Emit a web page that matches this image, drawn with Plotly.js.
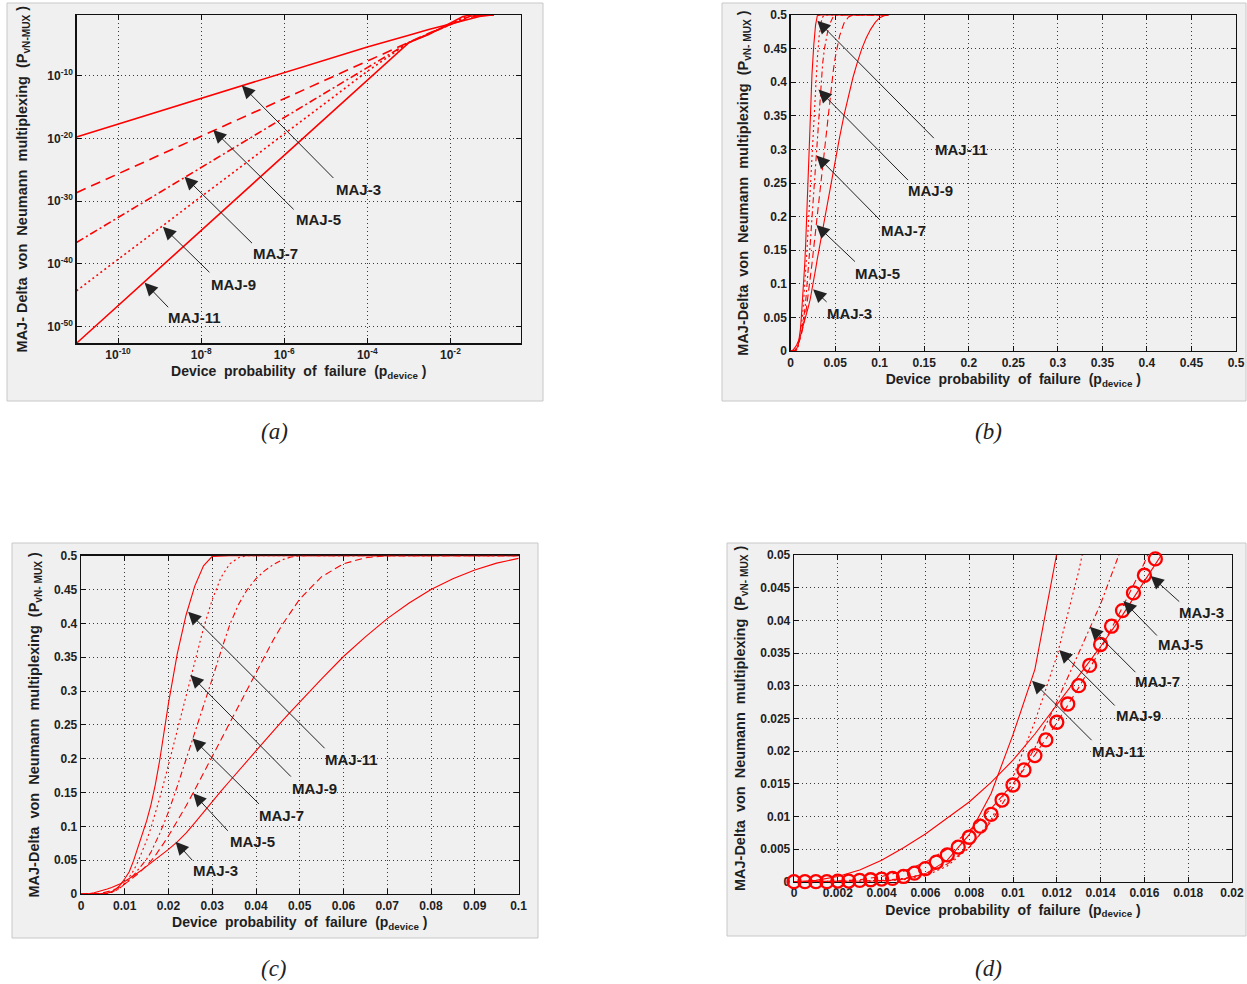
<!DOCTYPE html>
<html><head><meta charset="utf-8">
<script src="https://cdn.plot.ly/plotly-3.0.1.min.js"></script>
<style>html,body{margin:0;padding:0;background:#fff;} #chart{width:1247px;height:984px;}</style>
</head><body><div id="chart"></div>
<script>
// ---------- DATA ----------
const curveNames = ['MAJ-3', 'MAJ-5', 'MAJ-7', 'MAJ-9', 'MAJ-11'];

// panel (a): log-log
const pLog = [1e-11, 1e-10, 1e-9, 1e-8, 1e-7, 1e-6, 1e-5, 1e-4, 1e-3, 3e-3, 1e-2, 2e-2, 3e-2, 5e-2, 0.1, 0.11];
const maj3Log  = [1.8e-20, 2e-18, 2.2e-16, 2.6e-14, 3e-12, 3.3e-10, 3.7e-8, 4e-6, 3e-4, 2.5e-3, 0.0186, 0.066, 0.137, 0.284, 0.496, 0.5];
const maj5Log  = [2.3e-29, 2.3e-26, 2.3e-23, 2.3e-20, 2.3e-17, 2.3e-14, 2.3e-11, 2.3e-8, 2.2e-5, 6e-4, 0.015, 0.086, 0.203, 0.436, 0.5, 0.5];
const maj7Log  = [2.6e-37, 2.6e-33, 2.6e-29, 2.6e-25, 2.6e-21, 2.6e-17, 2.6e-13, 2.6e-9, 2e-5, 5e-4, 0.0145, 0.1215, 0.318, 0.5, 0.5, 0.5];
const maj9Log  = [5.2e-45, 5.2e-40, 5.2e-35, 5.2e-30, 5.2e-25, 5.2e-20, 5.2e-15, 5.2e-10, 2e-5, 4.5e-4, 0.016, 0.191, 0.435, 0.5, 0.5, 0.5];
const maj11Log = [2.2e-53, 2.2e-47, 2.2e-41, 2.2e-35, 2.2e-29, 2.2e-23, 2.2e-17, 2.2e-11, 2e-5, 4e-4, 0.0225, 0.282, 0.499, 0.5, 0.5, 0.5];

// panels (b), (c), (d): linear
const pLin = [0, 0.001, 0.002, 0.003, 0.004, 0.005, 0.006, 0.007, 0.008, 0.009, 0.010, 0.011, 0.012, 0.013, 0.014, 0.015, 0.016, 0.017, 0.018, 0.019, 0.020,
  0.022, 0.024, 0.026, 0.028, 0.030, 0.032, 0.034, 0.036, 0.038, 0.040, 0.042, 0.044, 0.046, 0.048, 0.050,
  0.055, 0.060, 0.065, 0.070, 0.075, 0.080, 0.085, 0.090, 0.095, 0.100, 0.105, 0.110];
const maj3Lin = [0, 0.0002, 0.0008, 0.0018, 0.0033, 0.0052, 0.0073, 0.0097, 0.0122, 0.0152, 0.0186, 0.0226, 0.0270, 0.0315, 0.0360, 0.0408, 0.0460, 0.0510, 0.0560, 0.0610, 0.0660,
  0.0770, 0.0900, 0.1050, 0.1210, 0.1370, 0.1520, 0.1670, 0.1820, 0.1970, 0.2120, 0.2270, 0.2420, 0.2560, 0.2700, 0.2840,
  0.3180, 0.3510, 0.3800, 0.4070, 0.4300, 0.4500, 0.4660, 0.4790, 0.4890, 0.4960, 0.4990, 0.5000];
const maj5Lin = [0, 0, 0.0001, 0.0003, 0.0008, 0.0016, 0.0030, 0.0050, 0.0078, 0.0112, 0.0150, 0.0194, 0.0243, 0.0297, 0.0356, 0.0420, 0.0488, 0.0570, 0.0660, 0.0760, 0.0860,
  0.1070, 0.1300, 0.1540, 0.1780, 0.2030, 0.2280, 0.2530, 0.2780, 0.3030, 0.3280, 0.3520, 0.3760, 0.3980, 0.4180, 0.4360,
  0.4690, 0.4880, 0.4970, 0.5000, 0.5, 0.5, 0.5, 0.5, 0.5, 0.5, 0.5, 0.5];
const maj7Lin = [0, 0, 0, 0.0001, 0.0002, 0.0005, 0.0012, 0.0027, 0.0053, 0.0092, 0.0145, 0.0205, 0.0275, 0.0350, 0.0425, 0.0515, 0.0620, 0.0750, 0.0895, 0.1050, 0.1215,
  0.1590, 0.1980, 0.2380, 0.2780, 0.3180, 0.3590, 0.3980, 0.4280, 0.4500, 0.4660, 0.4780, 0.4870, 0.4940, 0.4980, 0.5000,
  0.5, 0.5, 0.5, 0.5, 0.5, 0.5, 0.5, 0.5, 0.5, 0.5, 0.5, 0.5];
const maj9Lin = [0, 0, 0, 0, 0.0001, 0.0003, 0.0009, 0.0024, 0.0052, 0.0095, 0.0160, 0.0245, 0.0345, 0.0475, 0.0620, 0.0790, 0.0980, 0.1190, 0.1420, 0.1660, 0.1910,
  0.2420, 0.2930, 0.3440, 0.3930, 0.4350, 0.4680, 0.4880, 0.4970, 0.5000, 0.5, 0.5, 0.5, 0.5, 0.5, 0.5,
  0.5, 0.5, 0.5, 0.5, 0.5, 0.5, 0.5, 0.5, 0.5, 0.5, 0.5, 0.5];
const maj11Lin = [0, 0, 0, 0, 0.0001, 0.0004, 0.0012, 0.0033, 0.0072, 0.0135, 0.0225, 0.0325, 0.0490, 0.0680, 0.0880, 0.1080, 0.1320, 0.1620, 0.1980, 0.2400, 0.2820,
  0.3550, 0.4120, 0.4550, 0.4850, 0.4990, 0.5000, 0.5, 0.5, 0.5, 0.5, 0.5, 0.5, 0.5, 0.5, 0.5,
  0.5, 0.5, 0.5, 0.5, 0.5, 0.5, 0.5, 0.5, 0.5, 0.5, 0.5, 0.5];

// circle-marker series in panel (d)
const pCirc = [0, 0.0005, 0.001, 0.0015, 0.002, 0.0025, 0.003, 0.0035, 0.004, 0.0045, 0.005, 0.0055, 0.006, 0.0065, 0.007, 0.0075, 0.008, 0.0085, 0.009, 0.0095,
  0.010, 0.0105, 0.011, 0.0115, 0.012, 0.0125, 0.013, 0.0135, 0.014, 0.0145, 0.015, 0.0155, 0.016, 0.0165];
const circVals = [0, 0, 0, 0, 0.0001, 0.0001, 0.0002, 0.0003, 0.0004, 0.0005, 0.0008, 0.0013, 0.0020, 0.0030, 0.0041, 0.0053, 0.0068, 0.0085, 0.0103, 0.0125,
  0.0148, 0.0171, 0.0193, 0.0217, 0.0244, 0.0272, 0.0300, 0.0331, 0.0363, 0.0391, 0.0415, 0.0442, 0.0469, 0.0494];

// arrow tips (data coords) for the labels; panel (a) in log10 units
const tipA = {x: [-7.02, -7.71, -8.40, -8.92, -9.36], y: [-11.54, -18.63, -26.08, -34.07, -43.0]};
const tipB = {x: [0.0253, 0.029, 0.029, 0.0313, 0.030], y: [0.0918, 0.1875, 0.291, 0.389, 0.4916]};
const tipC = {x: [0.02162, 0.02564, 0.02548, 0.0250, 0.02448], y: [0.0773, 0.1488, 0.2300, 0.3236, 0.4172]};
const tipD = {x: [0.01629, 0.01504, 0.01351, 0.01211, 0.01087], y: [0.04679, 0.04296, 0.03903, 0.03546, 0.03077]};

const xTickLogVals = [1e-10, 1e-8, 1e-6, 1e-4, 1e-2];
const xTickLogText = ['10<sup>-10</sup>', '10<sup>-8</sup>', '10<sup>-6</sup>', '10<sup>-4</sup>', '10<sup>-2</sup>'];
const yTickLogVals = [1e-50, 1e-40, 1e-30, 1e-20, 1e-10];
const yTickLogText = ['10<sup>-50</sup>', '10<sup>-40</sup>', '10<sup>-30</sup>', '10<sup>-20</sup>', '10<sup>-10</sup>'];

// ---------- STYLE / LAYOUT ----------
const W = 1247, H = 984;
const fx = p => p / W, fy = p => 1 - p / H;
const RED = '#ff0000';
const logY = [maj3Log, maj5Log, maj7Log, maj9Log, maj11Log];
const linY = [maj3Lin, maj5Lin, maj7Lin, maj9Lin, maj11Lin];
const dashA = ['solid', '10px,6px', '8px,3px,2px,3px', '2px,3px', 'solid'];
const dashL = ['solid', '7px,4px', '6px,3px,2px,3px', '2px,3px', 'solid'];

const traces = [];
curveNames.forEach((n, i) => traces.push({x: pLog, y: logY[i], name: n, type: 'scatter', mode: 'lines',
  line: {color: RED, width: 1.6, dash: dashA[i]}, xaxis: 'x', yaxis: 'y', hoverinfo: 'skip'}));
[['x2', 'y2'], ['x3', 'y3'], ['x4', 'y4']].forEach(([xa, ya]) => {
  curveNames.forEach((n, i) => traces.push({x: pLin, y: linY[i], name: n, type: 'scatter', mode: 'lines',
    line: {color: RED, width: 1.1, dash: dashL[i]}, xaxis: xa, yaxis: ya, hoverinfo: 'skip'}));
});
traces.push({x: pCirc, y: circVals, name: 'markers', type: 'scatter', mode: 'markers', cliponaxis: false,
  marker: {symbol: 'circle-open', size: 13, color: RED, line: {color: RED, width: 2.3}}, xaxis: 'x4', yaxis: 'y4', hoverinfo: 'skip'});

const FONT = 'Liberation Sans, Arial, Helvetica, sans-serif';
const TXT = '#1e1e1e';
const xTitle = 'Device\u00a0 probability\u00a0 of\u00a0 failure\u00a0 (p<sub>device</sub>\u00a0)';
const yTitle = 'MAJ-Delta\u00a0 von\u00a0 Neumann\u00a0 multiplexing\u00a0 (P<sub>vN- MUX</sub>\u00a0)';
const yTitleA = 'MAJ- Delta\u00a0 von\u00a0 Neumann\u00a0 multiplexing\u00a0 (P<sub>vN-MUX</sub>\u00a0)';

function ax(extra) {
  return Object.assign({
    showline: true, linecolor: '#111', linewidth: 1.3, mirror: 'allticks',
    ticks: 'inside', ticklen: 5, tickwidth: 1, tickcolor: '#111',
    showgrid: true, gridcolor: '#3a3a3a', gridwidth: 1, griddash: '1px,3px',
    zeroline: false, automargin: false, fixedrange: true,
    tickfont: {family: FONT, size: 12, color: TXT, weight: 'bold'}
  }, extra);
}
function xt(text) { return {text: text, font: {family: FONT, size: 14, color: TXT, weight: 'bold'}, standoff: 5}; }
function yt(text, s) { return {text: text, font: {family: FONT, size: 14.5, color: TXT, weight: 'bold'}, standoff: s}; }

const layout = {
  width: W, height: H, margin: {l: 0, r: 0, t: 0, b: 0},
  paper_bgcolor: '#ffffff', plot_bgcolor: '#f0f0f0', showlegend: false,
  xaxis: ax({type: 'log', domain: [fx(76.5), fx(521)], range: [-11, Math.log10(0.5)], anchor: 'y',
    tickvals: xTickLogVals, ticktext: xTickLogText, title: xt(xTitle)}),
  yaxis: ax({type: 'log', domain: [fy(343.3), fy(15)], range: [-52.66, Math.log10(0.5)], anchor: 'x',
    tickvals: yTickLogVals, ticktext: yTickLogText, title: yt(yTitleA, 16)}),
  xaxis2: ax({domain: [fx(790.6), fx(1236)], range: [0, 0.5], dtick: 0.05, tick0: 0, anchor: 'y2', layer: 'below traces', title: xt(xTitle)}),
  yaxis2: ax({domain: [fy(351), fy(15)], range: [0, 0.5], dtick: 0.05, tick0: 0, anchor: 'x2', layer: 'below traces', title: yt(yTitle, 11)}),
  xaxis3: ax({domain: [fx(81), fx(518.5)], range: [0, 0.1], dtick: 0.01, tick0: 0, anchor: 'y3', layer: 'below traces', title: xt(xTitle)}),
  yaxis3: ax({domain: [fy(894), fy(555.7)], range: [0, 0.5], dtick: 0.05, tick0: 0, anchor: 'x3', layer: 'below traces', title: yt(yTitle, 11)}),
  xaxis4: ax({domain: [fx(794), fx(1232)], range: [0, 0.02], dtick: 0.002, tick0: 0, anchor: 'y4', layer: 'below traces', title: xt(xTitle)}),
  yaxis4: ax({domain: [fy(881.7), fy(555)], range: [0, 0.05], dtick: 0.005, tick0: 0, anchor: 'x4', layer: 'below traces', title: yt(yTitle, 11)}),
  shapes: [
    [7, 543, 3, 401], [722, 1246, 3, 401], [12, 538, 543, 938], [727, 1246, 543, 936]
  ].map(r => ({type: 'rect', xref: 'paper', yref: 'paper', layer: 'below',
    x0: fx(r[0]), x1: fx(r[1]), y0: fy(r[3]), y1: fy(r[2]),
    fillcolor: '#f0f0f0', line: {color: '#c8c8c8', width: 1}})),
  annotations: []
};

// label text offsets (pixels from arrow tip to text centre) and arrow tail offsets
const txtA = [[117, 104], [105, 90], [91, 77], [71, 58], [50, 35]];
const tailA = [[93, 94], [82, 81], [69, 68], [48, 47], [25, 26]];
const txtB = [[36, 24], [61, 48], [87, 75], [112, 101], [144, 129]];
const tailB = [[15, 14], [40, 38], [65, 66], [91, 92], [118, 119]];
const txtC = [[40, 29], [59, 48], [89, 77], [124, 113], [163, 148]];
const tailC = [[18, 20], [36, 39], [68, 67], [102, 103], [138, 138]];
const txtD = [[51, 37], [57, 43], [68, 55], [79, 65], [86, 71]];
const tailD = [[30, 27], [35, 36], [47, 47], [57, 57], [61, 61]];
[[tipA, txtA, tailA, 'x', 'y'], [tipB, txtB, tailB, 'x2', 'y2'], [tipC, txtC, tailC, 'x3', 'y3'], [tipD, txtD, tailD, 'x4', 'y4']]
.forEach(([tip, txt, tail, xr, yr]) => {
  curveNames.forEach((n, i) => {
    layout.annotations.push({
      xref: xr, yref: yr, x: tip.x[i], y: tip.y[i], ax: tail[i][0], ay: tail[i][1],
      text: '', showarrow: true, arrowhead: 2, arrowsize: 2.6, arrowwidth: 1, arrowcolor: '#222', standoff: 0
    });
    layout.annotations.push({
      xref: xr, yref: yr, x: tip.x[i], y: tip.y[i], xshift: txt[i][0], yshift: -txt[i][1],
      xanchor: 'center', yanchor: 'middle', showarrow: false,
      text: n, font: {family: FONT, size: 15, color: TXT, weight: 'bold'}
    });
  });
});
// panel captions
[['(a)', 274, 432], ['(b)', 988, 432], ['(c)', 274, 968], ['(d)', 988, 968]].forEach(([t, px, py]) => {
  layout.annotations.push({xref: 'paper', yref: 'paper', x: fx(px), y: fy(py), xanchor: 'center', yanchor: 'middle',
    showarrow: false, text: t, font: {family: 'Liberation Serif, Times New Roman, serif', size: 23, color: '#222', style: 'italic'}});
});

Plotly.newPlot('chart', traces, layout, {displayModeBar: false, staticPlot: true});
</script></body></html>
